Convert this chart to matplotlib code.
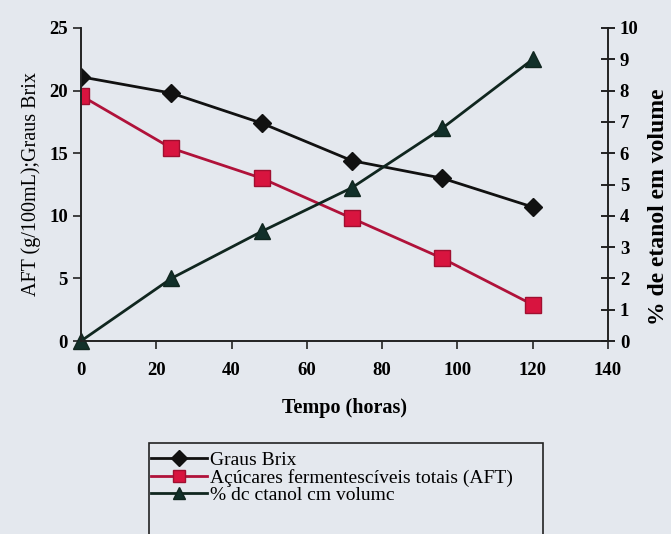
import matplotlib.pyplot as plt
from matplotlib.patches import Rectangle

# tempo de fermentacao (horas)
tempo = [0, 24, 48, 72, 96, 120]
brix = [21.1, 19.8, 17.4, 14.4, 13.0, 10.7]
aft = [19.6, 15.4, 13.0, 9.8, 6.6, 2.9]
etanol = [0.0, 2.0, 3.5, 4.9, 6.8, 9.0]

x_ticks = [0, 20, 40, 60, 80, 100, 120, 140]
y_ticks = [0, 5, 10, 15, 20, 25]
y2_ticks = list(range(0, 11))

plt.rcParams['font.family'] = ['Liberation Serif', 'DejaVu Serif']
bg = '#e4e8ee'

fig = plt.figure(figsize=(6.71, 5.34), dpi=100, facecolor=bg)
ax = fig.add_axes([81 / 671, 1 - 341 / 534, (608 - 81) / 671, (341 - 28) / 534])
ax.set_facecolor(bg)
ax2 = ax.twinx()

l1, = ax.plot(tempo, brix, color='#111111', lw=2, marker='D', ms=9,
              mfc='#111111', mec='#111111')
l2, = ax.plot(tempo, aft, color='#b0123a', lw=2, marker='s', ms=11,
              mfc='#d8143f', mec='#a00f30')
l3, = ax2.plot(tempo, etanol, color='#10261f', lw=2, marker='^', ms=11,
               mfc='#12302a', mec='#10261f', clip_on=False)

ax.set_xlim(0, 140)
ax.set_ylim(0, 25)
ax2.set_ylim(0, 10)
ax.set_xticks(x_ticks)
ax.set_yticks(y_ticks)
ax2.set_yticks(y2_ticks)

for a in (ax, ax2):
    a.spines['top'].set_visible(False)
    for s in a.spines.values():
        s.set_color('#222222')
        s.set_linewidth(1.2)

ax.tick_params(axis='both', labelsize=13.5, color='#222222', length=6, width=1.2)
ax.tick_params(axis='x', pad=9)
ax2.tick_params(axis='y', direction='inout', labelsize=13.5, length=10, width=1.2)
for lab in ax.get_xticklabels() + ax.get_yticklabels() + ax2.get_yticklabels():
    lab.set_fontweight('bold')

ax.set_xlabel('Tempo (horas)', fontsize=14.5, fontweight='bold', labelpad=14)
ax.set_ylabel('AFT (g/100mL);Graus Brix', fontsize=14.5, labelpad=6)
ax2.set_ylabel('% de etanol em volume', fontsize=17, fontweight='bold')
ax2.yaxis.set_label_coords(1.075, 0.43)

# caixa da legenda (cortada na borda inferior como no original)
fig.patches.append(Rectangle((149 / 671, -0.05), (543 - 149) / 671, 0.05 + (534 - 443) / 534,
                             transform=fig.transFigure, fill=False,
                             edgecolor='#222222', lw=1.2))
fig.legend([l1, l2, l3],
           ['Graus Brix', 'Açúcares fermentescíveis totais (AFT)', '% dc ctanol cm volumc'],
           loc='upper left', bbox_to_anchor=(151 / 671, 1 - 451 / 534),
           frameon=False, fontsize=14, handlelength=2.9, handletextpad=0.15,
           labelspacing=0.0, borderpad=0.0, borderaxespad=0.0, markerscale=0.85)

fig.savefig('out.png', dpi=100, facecolor=bg)
